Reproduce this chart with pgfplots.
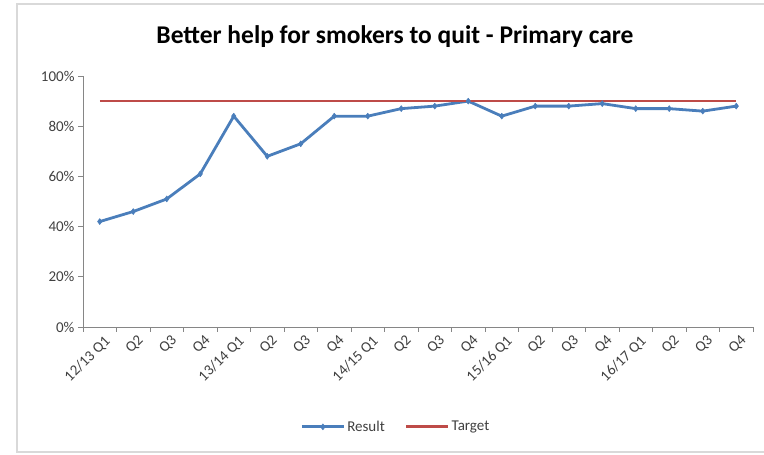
\documentclass[border=0pt]{standalone}
\usepackage{pgfplots}
\pgfplotsset{compat=1.18}
\usepackage{fontspec}
\setmainfont{Carlito}

\definecolor{resultblue}{HTML}{4A7EBB}
\definecolor{targetred}{HTML}{BE4B48}
\definecolor{axisgray}{HTML}{868686}
\definecolor{labelgray}{HTML}{404040}
\definecolor{framegray}{HTML}{D9D9D9}

\pgfplotstableread{
x  result target
1  42 90
2  46 90
3  51 90
4  61 90
5  84 90
6  68 90
7  73 90
8  84 90
9  84 90
10 87 90
11 88 90
12 90 90
13 84 90
14 88 90
15 88 90
16 89 90
17 87 90
18 87 90
19 86 90
20 88 90
}\quitdata

\begin{document}
\begin{tikzpicture}
  \path[use as bounding box] (0pt,0pt) rectangle (764pt,455pt);
  % chart area frame
  \draw[framegray, line width=1.5pt] (764pt,451pt) -- (17pt,451pt) -- (17pt,3pt) -- (764pt,3pt);
  % title
  \node[font=\fontsize{25.5}{29}\selectfont\bfseries, text=black] at (395pt,418pt) {Better help for smokers to quit - Primary care};
  \begin{axis}[
    at={(83pt,128pt)}, anchor=south west,
    scale only axis, width=670pt, height=251pt,
    xmin=0.5, xmax=20.5, ymin=0, ymax=100,
    axis x line=bottom, axis y line=left,
    axis line style={axisgray, line width=0.8pt, -},
    xtick={1,...,20},
    xticklabels={12/13 Q1,Q2,Q3,Q4,13/14 Q1,Q2,Q3,Q4,14/15 Q1,Q2,Q3,Q4,15/16 Q1,Q2,Q3,Q4,16/17 Q1,Q2,Q3,Q4},
    major x tick style={draw=none},
    minor xtick={0.5,1.5,...,20.5},
    minor tick length=5pt,
    minor x tick style={axisgray, line width=0.8pt},
    ytick={0,20,...,100},
    yticklabel={\pgfmathprintnumber{\tick}\%},
    major y tick style={axisgray, line width=0.8pt},
    major tick length=5pt,
    tick align=outside,
    /pgf/number format/assume math mode=true,
    ticklabel style={font=\fontsize{15}{17}\selectfont, text=labelgray},
    xticklabel style={rotate=45, anchor=north east, inner sep=2pt, yshift=-2pt, xshift=3pt},
    grid=none,
    clip=false,
    legend style={at={(rel axis cs:0.467,-0.398)}, anchor=center, draw=none, fill=none,
      legend columns=2, font=\fontsize{15}{17}\selectfont, text=labelgray,
      /tikz/every even column/.append style={column sep=18pt}},
    legend cell align=left,
    legend image code/.code={
      \draw[#1, mark repeat=2, mark phase=2] plot coordinates {(0pt,0pt) (21pt,0pt) (42pt,0pt)};
    },
  ]
    \addplot[resultblue, line width=2.8pt, line join=round, mark=diamond*, mark size=3pt,
      mark options={solid, line width=0.5pt}] table[x=x, y=result] {\quitdata};
    \addlegendentry{Result}
    \addplot[targetred, line width=2.8pt, no marks] table[x=x, y=target] {\quitdata};
    \addlegendentry{Target}
  \end{axis}
\end{tikzpicture}
\end{document}
